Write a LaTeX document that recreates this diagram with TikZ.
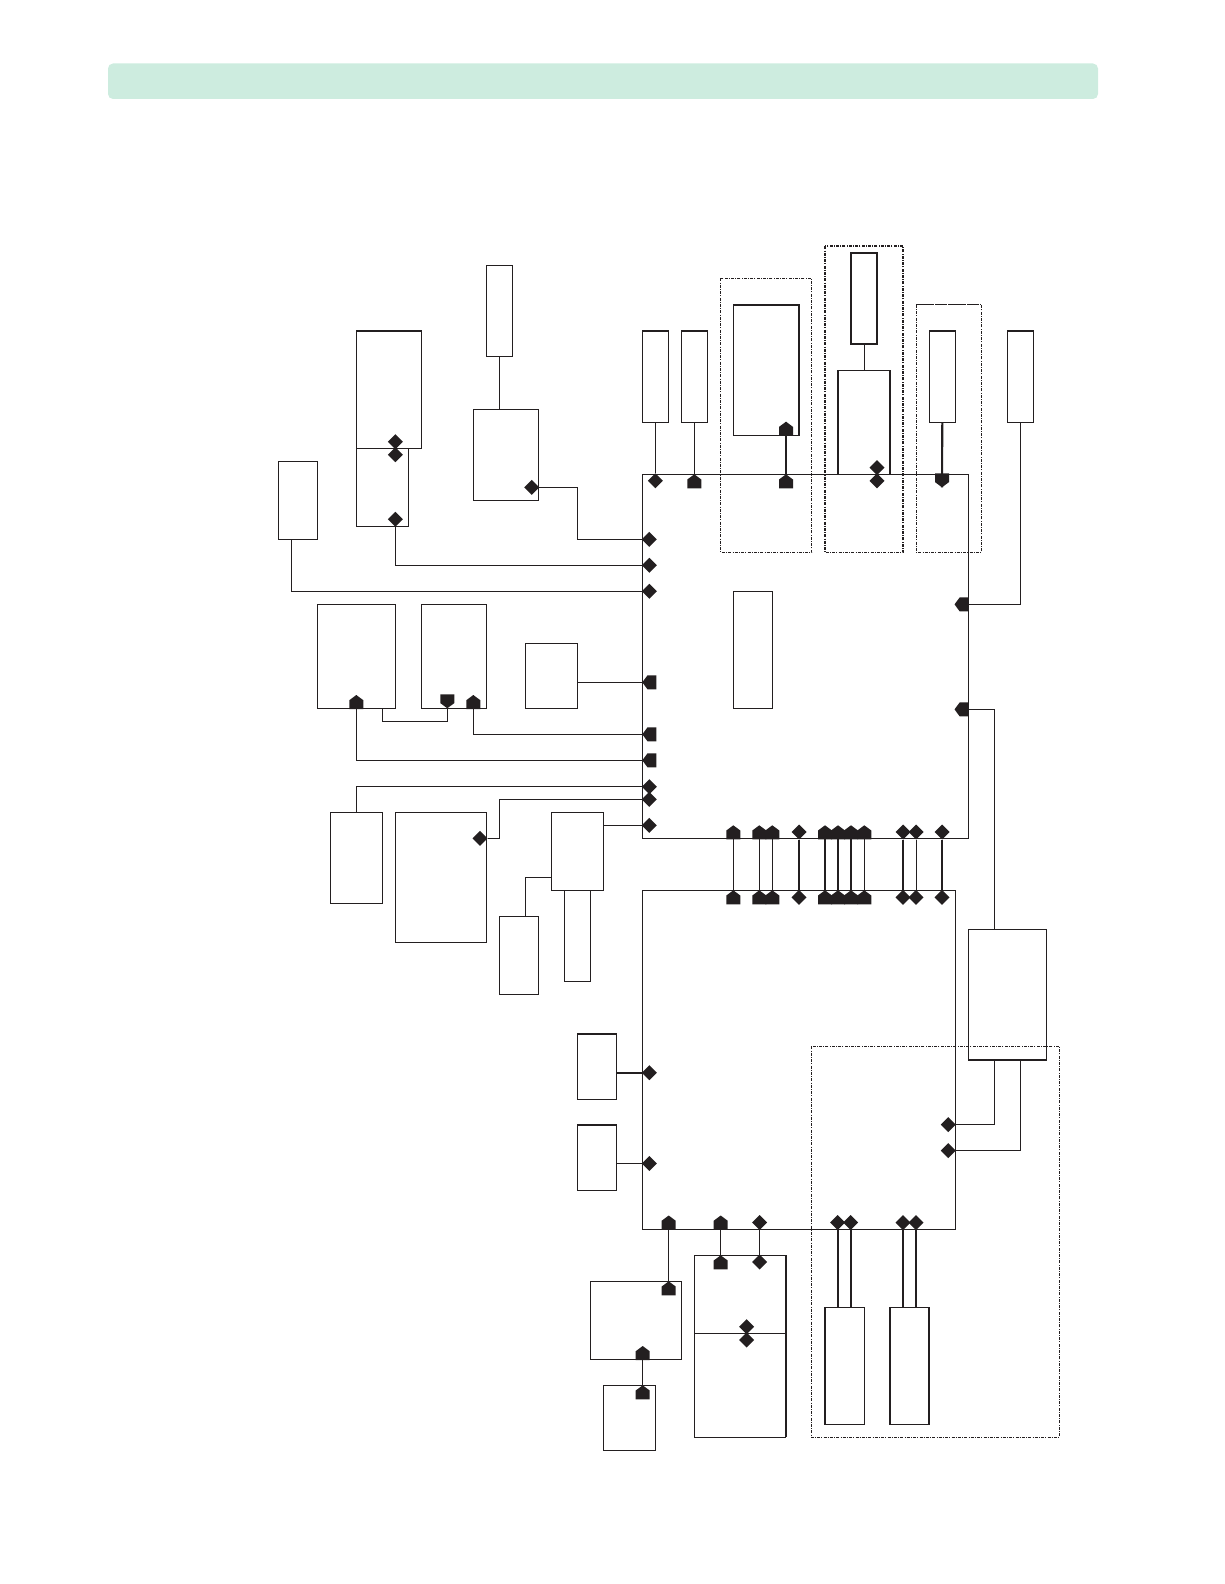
\documentclass[tikz,border=0pt]{standalone}
\usetikzlibrary{shapes.geometric}
\definecolor{ink}{HTML}{231F20}
\definecolor{bar}{HTML}{CDECDF}
\tikzset{
  ln/.style={draw=ink,line width=1.1pt},
  hv/.style={draw=ink,line width=2.1pt},
  md/.style={draw=ink,line width=1.8pt},
  boxn/.style={ln,inner sep=0pt,outer sep=0pt,rectangle},
  dia/.style={shape=diamond,aspect=1,fill=ink,inner sep=0pt,outer sep=0pt,minimum size=15pt},
  dd/.style={draw=ink,line width=.9pt,dash pattern=on 3pt off 1.2pt on 1pt off 1.2pt},
  dh/.style={draw=ink,line width=1.7pt,dash pattern=on 3pt off 1.2pt on 1pt off 1.2pt},
}
% \bx{name}{x1}{y1}{x2}{y2}
\newcommand{\bx}[5]{\node[boxn,minimum width={(#4-#2)*1pt},minimum height={(#5-#3)*1pt}] (#1) at ({(#2+#4)/2},{(#3+#5)/2}) {};}
% \hs{name}{x}{y}{rotation}: filled house marker, apex at the coordinate
\newcommand{\hs}[4]{\coordinate (#1) at (#2,#3);
  \fill[ink,shift={(#2,#3)},rotate=#4] (0,0)--(7,5.2)--(7,14)--(-7,14)--(-7,5.2)--cycle;}
\newcommand{\dm}[3]{\node[dia] (#1) at (#2,#3) {};}
\begin{document}
\begin{tikzpicture}[x=1pt,y=-1pt]
\useasboundingbox (0,0) rectangle (1224,1584);
\fill[bar,rounded corners=5pt] (108,63.5) rectangle (1098,99);

% main blocks
\bx{main}{642.3}{474.3}{968.5}{838.3}
\bx{low}{642.3}{890.3}{955.3}{1229.3}
\bx{inner}{733.3}{591.8}{772.3}{708.4}

% top row
\bx{A}{642.3}{330.7}{668.3}{422.3}
\bx{B}{681.3}{330.7}{707.3}{422.3}
\bx{C}{733.3}{305}{799.3}{435.3}
\bx{D}{850.7}{252.7}{877}{344}
\bx{E}{838}{370.3}{890}{474.3}
\bx{F}{929.3}{330.7}{955.3}{422.3}
\bx{G}{1007.3}{330.7}{1033.7}{422.3}
\draw[dd] (720.7,278.3) rectangle (811.7,552.3);
\draw[dh] (824.7,246.3) rectangle (903.3,552.4);
\draw[dd,line width=1.1pt] (916.3,304.7) rectangle (981.3,552.3);
\draw[dh,line width=1.5pt] (916.3,304.7) -- (981.3,304.7);
\draw[md] (A.north west)--(A.north east);
\draw[md] (B.north west)--(B.north east);
\draw[md] (F.north west)--(F.north east);
\draw[md] (G.north west)--(G.north east);
\draw[hv] (C.north west)--(C.north east)--(C.south east);
\draw[hv] (D.south west) rectangle (D.north east);
\draw[hv] (E.south west)--(E.north west);
\draw[hv] (E.south east)--(E.north east);

\dm{ma}{655.3}{480.8}
\hs{mb}{694.3}{474.3}{0}
\hs{mc}{786}{474.3}{0}
\hs{mcc}{786}{421.7}{0}
\dm{me}{877}{467.7}
\dm{mee}{877}{480.8}
\hs{mf}{942}{487.3}{180}
\draw[ln] (A.south -| ma) -- (ma);
\draw[ln] (B.south) -- (mb);
\draw[hv] (mcc) -- (mc);
\draw[ln] (D.south -| 864.3,0) -- (E.north -| 864.3,0);
\draw[hv] (F.south) -- (mf);

% left upper group
\bx{P}{356.3}{330.7}{421.3}{448.3}
\bx{Q}{356.3}{448.3}{408.3}{526.3}
\bx{R}{473.3}{409.3}{538.3}{500.3}
\bx{S}{486.3}{265.6}{512.3}{356.5}
\bx{T}{278.2}{461.5}{317.4}{539.3}
\draw[md] (P.north west)--(P.north east);
\draw[md] (S.south west)--(S.south east);
\dm{pa}{395.3}{441.7}
\dm{qa}{395.3}{454.7}
\dm{qb}{395.3}{519.3}
\dm{ra}{531.7}{487.4}
\dm{la}{649.3}{539.4}
\dm{lb}{649.3}{565.3}
\dm{lc}{649.3}{591.3}
\draw[ln] (S.south -| 499.4,0) -- (R.north -| 499.4,0);
\draw[ln] (ra.east) -- (577.7,487.4) |- (main.west |- la);
\draw[ln] (qb) |- (main.west |- lb);
\draw[ln] (T.south -| 291.4,0) |- (main.west |- lc);

% left middle group
\bx{U}{317.3}{604.3}{395.3}{708.3}
\bx{V}{421.3}{604.3}{486.3}{708.3}
\bx{W}{525.3}{643.3}{577.3}{708.3}
\hs{ua}{356.3}{695}{0}
\hs{va}{447.3}{708.3}{180}
\hs{vb}{473.3}{695}{0}
\hs{lf}{642.3}{682.3}{90}
\hs{lg}{642.3}{734.3}{90}
\hs{lh}{642.3}{760.3}{90}
\draw[ln] (W.east |- lf) -- (lf);
\draw[ln] (vb) |- (lg);
\draw[ln] (ua) |- (lh);
\draw[ln] (U.south -| 382.3,0) |- (447.3,721.3) -- (va);

% left lower group
\bx{X}{330.3}{812.3}{382.3}{903.3}
\bx{Y}{395.3}{812.3}{486.3}{942.3}
\bx{Z}{551.3}{812.3}{603.3}{890.3}
\bx{AA}{499.4}{916.6}{538.6}{994.4}
\bx{AB}{564.5}{890.3}{590.8}{981.3}
\dm{ya}{480}{838.3}
\dm{li}{649.3}{786.7}
\dm{lj}{649.3}{799.3}
\dm{lk}{649.3}{825.3}
\draw[ln] (X.north) |- (main.west |- li);
\draw[ln] (ya.east) -- (499.3,838.3) |- (main.west |- lj);
\draw[ln] (Z.east |- lk) -- (main.west |- lk);
\draw[ln] (Z.west |- 0,877.3) -| (AA.north -| 525.3,0);

% right side
\bx{H}{968.5}{929.6}{1046.3}{1060}
\draw[md] (H.south west)--(H.south east);
\hs{rg}{954.5}{604.4}{90}
\hs{rh}{954.5}{709.4}{90}
\dm{ha}{948.3}{1124.6}
\dm{hb}{948.3}{1150.6}
\draw[ln] (G.south) |- (main.east |- rg);
\draw[ln] (main.east |- rh) -| (H.north -| 994.6,0);
\draw[draw=ink,line width=1.5pt] (H.south -| 994.6,0) |- (low.east |- ha);
\draw[ln] (H.south -| 1020.5,0) |- (low.east |- hb);

% bus between main and low: uppers and lowers
\foreach \n/\x/\w in {a/733.3/1.1pt,b/759.3/1.1pt,c/772.3/1.1pt,e/825/1.9pt,f/838/1.6pt,g/851/1.9pt,h/864.3/1.1pt}{
  \hs{t\n}{\x}{825.3}{0}
  \hs{u\n}{\x}{890.3}{0}
  \draw[draw=ink,line width=\w] (\x,838.3) -- (u\n);
}
\foreach \n/\x/\w in {d/799/1.9pt,i/903/1.9pt,j/916/1pt,k/942/1.9pt}{
  \dm{t\n}{\x}{832}
  \dm{u\n}{\x}{897.3}
  \draw[draw=ink,line width=\w] (t\n) -- (u\n);
}

% left of low
\bx{N}{577.2}{1033.7}{616.2}{1099.4}
\bx{O}{577.2}{1124.7}{616.2}{1190.4}
\draw[md] (N.north west)--(N.north east);
\draw[md] (O.north west)--(O.north east);
\dm{na}{649.3}{1072.7}
\dm{oa}{649.3}{1163.5}
\draw[md] (N.east |- na) -- (low.west |- na);
\draw[ln] (O.east |- oa) -- (low.west |- oa);

% below low
\bx{I}{590.3}{1281.3}{681.3}{1359.3}
\bx{J}{603.3}{1385.3}{655.3}{1450.3}
\bx{K}{694.3}{1255.3}{785.7}{1437.3}
\bx{L}{824.7}{1307.3}{864.3}{1424.3}
\bx{M}{889.7}{1307.3}{929}{1424.3}
\draw[dd] (811,1046.3) rectangle (1059.4,1437);
\draw[ln] (K.west |- 0,1333.3) -- (K.east |- 0,1333.3);
\draw[md] (K.north east)--(K.south east);
\draw[md] (L.north west)--(L.south west);
\draw[md] (M.north west)--(M.south west);
\hs{ba}{668.7}{1215.5}{0}
\hs{bb}{720.7}{1215.5}{0}
\dm{bc}{759.7}{1222.5}
\dm{bd}{837.7}{1222.5}
\dm{be}{850.7}{1222.5}
\dm{bf}{903}{1222.5}
\dm{bg}{916}{1222.5}
\hs{ia}{668.7}{1281.3}{0}
\hs{ib}{642.7}{1346}{0}
\hs{ja}{642.7}{1385.3}{0}
\hs{ka}{720.7}{1255.3}{0}
\dm{kb}{759.7}{1262}
\dm{kc}{746.7}{1326.7}
\dm{kd}{746.7}{1340}
\draw[ln] (low.south -| ia) -- (ia);
\draw[ln] (I.south -| ja) -- (ja);
\draw[ln] (low.south -| ka) -- (ka);
\draw[ln] (bc) -- (kb);
\draw[hv] (bd) -- (L.north -| bd);
\draw[hv] (be) -- (L.north -| be);
\draw[hv] (bf) -- (M.north -| bf);
\draw[ln] (bg) -- (M.north -| bg);
\end{tikzpicture}
\end{document}
